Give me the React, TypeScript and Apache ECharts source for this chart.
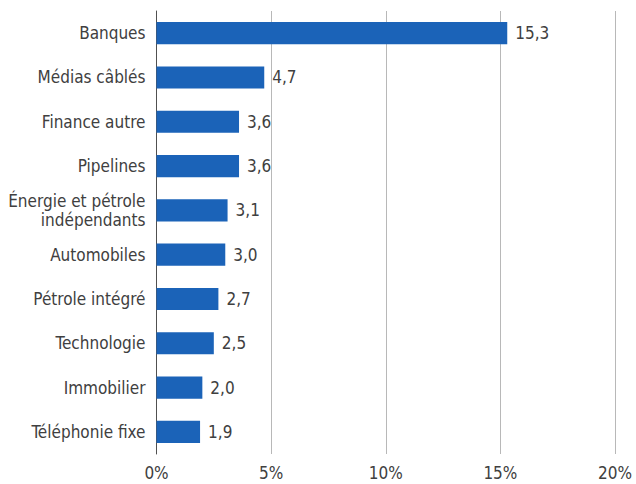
import React, { useEffect, useRef } from "react";
import * as echarts from "echarts";

const categories = [
  "Banques",
  "Médias câblés",
  "Finance autre",
  "Pipelines",
  "Énergie et pétrole\nindépendants",
  "Automobiles",
  "Pétrole intégré",
  "Technologie",
  "Immobilier",
  "Téléphonie fixe",
];
const values = [15.3, 4.7, 3.6, 3.6, 3.1, 3.0, 2.7, 2.5, 2.0, 1.9];
const xTicks = { min: 0, max: 20, interval: 5 };

const FONT = "'Liberation Sans Narrow', 'DejaVu Sans Condensed', 'Roboto Condensed', 'Noto Sans', sans-serif";
const TEXT = "#404040";

export default function App() {
  const ref = useRef<HTMLDivElement>(null);
  useEffect(() => {
    if (!ref.current) return;
    const chart = echarts.init(ref.current, undefined, { renderer: "svg" });
    chart.setOption({
      animation: false,
      grid: { left: 156.5, right: 21, top: 11, bottom: 30, containLabel: false },
      xAxis: {
        type: "value",
        min: xTicks.min,
        max: xTicks.max,
        interval: xTicks.interval,
        axisLine: { show: false },
        axisTick: { show: false },
        splitLine: { show: true, lineStyle: { color: "#b8b8b8", width: 1 } },
        axisLabel: {
          formatter: "{value}%",
          color: TEXT,
          fontFamily: FONT,
          fontSize: 17,
          margin: 10,
        },
      },
      yAxis: {
        type: "category",
        data: categories,
        inverse: true,
        axisLine: { show: true, lineStyle: { color: "#505050", width: 1 } },
        axisTick: { show: false },
        axisLabel: {
          color: TEXT,
          fontFamily: FONT,
          fontSize: 17,
          margin: 11,
          lineHeight: 19,
        },
      },
      series: [
        {
          type: "bar",
          data: values,
          barWidth: "50%",
          itemStyle: { color: "#1b63b8" },
          label: {
            show: true,
            position: "right",
            distance: 8,
            color: TEXT,
            fontFamily: FONT,
            fontSize: 17,
            formatter: (p: any) => p.value.toFixed(1).replace(".", ","),
          },
        },
      ],
    });
    return () => chart.dispose();
  }, []);
  return <div ref={ref} style={{ width: 636, height: 484, position: "absolute", left: 0, top: 0 }} />;
}
